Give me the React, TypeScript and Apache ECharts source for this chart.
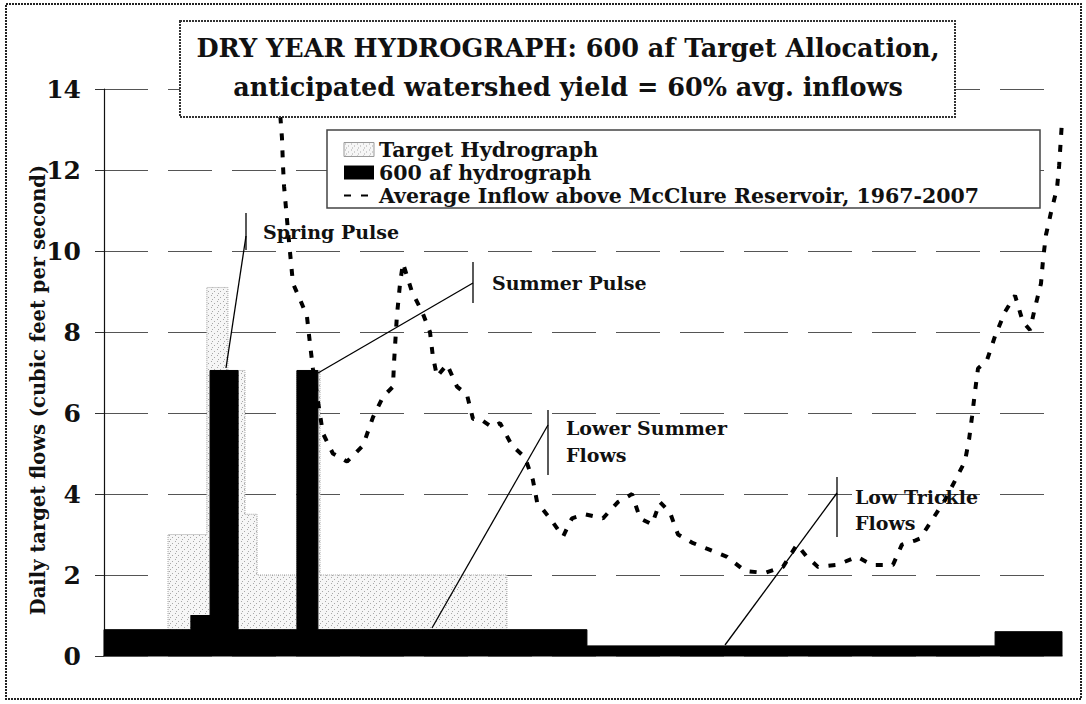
import React, { useEffect, useRef } from "react";
import * as echarts from "echarts";

// ---- data ----
const yMin = 0;
const yMax = 14;
const yInterval = 2;
const dayMax = 365;

// Target hydrograph (step edges in day-of-season, value for each step)
const targetEdges = [24.4, 39.2, 47.2, 53.7, 58.3, 73.5, 82.3, 153.5];
const targetValues = [3.0, 9.1, 7.05, 3.5, 2.0, 7.05, 2.0];

// 600 af hydrograph
const allocEdges = [0, 33.1, 40.4, 51.1, 73.5, 81.5, 184.0, 339.5, 365];
const allocValues = [0.65, 1.0, 7.05, 0.65, 7.05, 0.65, 0.25, 0.6];

// Average inflow above McClure Reservoir, 1967-2007
const inflowDays = [
  65.9, 67.1, 67.8, 68.2, 68.6, 70.1, 70.9, 72.0, 74.7, 77.3,
  78.5, 79.6, 81.5, 83.4, 87.2, 92.6, 98.7, 102.5, 106.3, 110.1,
  110.5, 111.6, 112.8, 113.9, 117.3, 121.2, 124.2, 125.3, 126.9, 130.7,
  134.5, 138.3, 140.6, 143.3, 147.8, 150.9, 155.4, 160.4, 163.4, 165.0,
  169.9, 174.9, 178.3, 183.3, 190.1, 195.8, 201.2, 204.2, 208.8, 211.8,
  215.6, 218.7, 224.0, 229.7, 237.4, 244.2, 251.8, 258.7, 264.0, 267.8,
  272.0, 279.3, 286.9, 292.6, 300.6, 304.0, 309.0, 310.9, 320.4, 328.0,
  329.6, 330.7, 331.8, 333.0, 336.4, 339.5, 343.3, 347.1, 350.1, 352.8,
  354.7, 357.0, 357.8, 358.9, 360.8, 363.1, 363.9, 364.5, 365.0,
];
const inflowValues = [
  15.0, 13.4, 12.8, 12.1, 11.6, 10.5, 9.95, 9.2, 8.8, 8.4,
  7.7, 7.1, 6.3, 5.5, 5.0, 4.8, 5.2, 5.9, 6.4, 6.65,
  7.25, 8.4, 9.2, 9.7, 9.0, 8.5, 8.0, 7.4, 6.9, 7.2,
  6.65, 6.45, 5.85, 5.85, 5.65, 5.75, 5.2, 4.9, 4.35, 3.8,
  3.4, 2.95, 3.4, 3.5, 3.4, 3.8, 4.0, 3.4, 3.25, 3.8,
  3.55, 3.0, 2.8, 2.65, 2.45, 2.1, 2.05, 2.2, 2.75, 2.45,
  2.2, 2.25, 2.45, 2.25, 2.25, 2.75, 2.85, 2.9, 3.85, 4.8,
  5.35, 5.9, 6.5, 7.1, 7.3, 7.9, 8.5, 8.9, 8.25, 8.05,
  8.6, 9.2, 9.8, 10.4, 10.95, 11.55, 12.1, 12.7, 13.2,
];

const seriesNames = [
  "Target Hydrograph",
  "600 af hydrograph",
  "Average Inflow above McClure Reservoir, 1967-2007",
];
const titleLines = [
  "DRY YEAR HYDROGRAPH: 600 af Target Allocation,",
  "anticipated watershed yield = 60% avg. inflows",
];
const yAxisTitle = "Daily target flows (cubic feet per second)";

const FONT = '"DejaVu Serif", "Liberation Serif", serif';

function stepPoints(edges: number[], values: number[]) {
  const pts: number[][] = [[edges[0], 0]];
  for (let i = 0; i < values.length; i++) {
    pts.push([edges[i], values[i]]);
    pts.push([edges[i + 1], values[i]]);
  }
  pts.push([edges[edges.length - 1], 0]);
  return pts;
}

function makeStipple() {
  const c = document.createElement("canvas");
  c.width = 6;
  c.height = 6;
  const g = c.getContext("2d")!;
  g.fillStyle = "#f6f6f6";
  g.fillRect(0, 0, 6, 6);
  g.fillStyle = "#a8a8a8";
  g.fillRect(1, 1, 1, 1);
  g.fillRect(4, 3, 1, 1);
  g.fillRect(2, 5, 1, 1);
  return c;
}

function line(x1: number, y1: number, x2: number, y2: number) {
  return {
    type: "line",
    z: 15,
    silent: true,
    shape: { x1, y1, x2, y2 },
    style: { stroke: "#000", lineWidth: 1.3 },
  };
}

function label(text: string, x: number, y: number) {
  return {
    type: "text",
    z: 15,
    silent: true,
    x,
    y,
    style: {
      text,
      font: `bold 19px ${FONT}`,
      fill: "#111",
      align: "left",
      verticalAlign: "middle",
      textAlign: "left",
      textVerticalAlign: "middle",
    },
  };
}

export default function App() {
  const ref = useRef<HTMLDivElement>(null);

  useEffect(() => {
    if (!ref.current) return;
    const chart = echarts.init(ref.current, undefined, { renderer: "svg" });
    const stipple = { image: makeStipple(), repeat: "repeat" };
    const inflowData = inflowDays.map((d, i) => [d, inflowValues[i]]);

    chart.setOption({
      animation: false,
      backgroundColor: "#fff",
      grid: { left: 104, right: 24, top: 89, bottom: 48, containLabel: false },
      xAxis: {
        type: "value",
        min: 0,
        max: dayMax,
        axisLine: { show: true, lineStyle: { color: "#555", width: 1.5 } },
        axisTick: { show: false },
        axisLabel: { show: false },
        splitLine: { show: false },
      },
      yAxis: {
        type: "value",
        min: yMin,
        max: yMax,
        interval: yInterval,
        axisLine: { show: true, lineStyle: { color: "#111", width: 1.2 } },
        axisTick: { show: true, length: 9, lineStyle: { color: "#333" } },
        axisLabel: {
          fontFamily: FONT,
          fontWeight: "bold",
          fontSize: 25,
          color: "#111",
          margin: 23,
        },
        splitLine: {
          show: true,
          lineStyle: { color: "#555", width: 1, type: [44, 20] },
        },
      },
      legend: {
        orient: "vertical",
        left: 338,
        top: 134,
        z: 20,
        itemWidth: 30,
        itemHeight: 14,
        itemGap: 2,
        selectedMode: false,
        textStyle: {
          fontFamily: FONT,
          fontWeight: "bold",
          fontSize: 20.5,
          color: "#111",
        },
        data: [
          {
            name: seriesNames[0],
            icon: "rect",
            itemStyle: { color: stipple, borderColor: "#999", borderWidth: 1 },
          },
          { name: seriesNames[1], icon: "rect", itemStyle: { color: "#000" } },
          { name: seriesNames[2], itemStyle: { opacity: 0 } },
        ],
      },
      series: [
        {
          name: seriesNames[0],
          type: "line",
          z: 2,
          symbol: "none",
          data: stepPoints(targetEdges, targetValues),
          lineStyle: { color: "#a0a0a0", width: 1, type: "dotted" },
          itemStyle: { color: "#bbb" },
          areaStyle: { color: stipple, opacity: 1 },
        },
        {
          name: seriesNames[1],
          type: "line",
          z: 3,
          symbol: "none",
          data: stepPoints(allocEdges, allocValues),
          lineStyle: { color: "#000", width: 1 },
          itemStyle: { color: "#000" },
          areaStyle: { color: "#000", opacity: 1 },
        },
        {
          name: seriesNames[2],
          type: "line",
          z: 4,
          symbol: "none",
          clip: true,
          data: inflowData,
          itemStyle: { color: "#000" },
          lineStyle: { color: "#000", width: 4, type: [7, 10] },
        },
      ],
      graphic: [
        {
          type: "rect",
          z: 0,
          silent: true,
          shape: { x: 6, y: 4, width: 1075, height: 695 },
          style: { fill: "none", stroke: "#222", lineWidth: 2, lineDash: [2, 1] },
        },
        {
          type: "text",
          z: 5,
          silent: true,
          x: 38,
          y: 390,
          rotation: Math.PI / 2,
          style: {
            text: yAxisTitle,
            font: `bold 19.5px ${FONT}`,
            fill: "#111",
            align: "center",
            verticalAlign: "middle",
            textAlign: "center",
            textVerticalAlign: "middle",
          },
        },
        {
          type: "rect",
          z: 10,
          silent: true,
          shape: { x: 180, y: 21, width: 775, height: 96 },
          style: { fill: "#fff", stroke: "#333", lineWidth: 2, lineDash: [2, 1] },
        },
        {
          type: "text",
          z: 11,
          silent: true,
          x: 568,
          y: 48,
          style: {
            text: titleLines[0],
            font: `bold 25.5px ${FONT}`,
            fill: "#111",
            align: "center",
            verticalAlign: "middle",
            textAlign: "center",
            textVerticalAlign: "middle",
          },
        },
        {
          type: "text",
          z: 11,
          silent: true,
          x: 568,
          y: 87,
          style: {
            text: titleLines[1],
            font: `bold 25.5px ${FONT}`,
            fill: "#111",
            align: "center",
            verticalAlign: "middle",
            textAlign: "center",
            textVerticalAlign: "middle",
          },
        },
        {
          type: "rect",
          z: 10,
          silent: true,
          shape: { x: 327, y: 130, width: 713, height: 78 },
          style: { fill: "#fff", stroke: "#444", lineWidth: 1.5 },
        },
        line(226, 368, 246, 236),
        line(246, 213, 246, 250),
        label("Spring Pulse", 263, 232),
        line(318, 373, 473, 283),
        line(473, 262, 473, 303),
        label("Summer Pulse", 492, 283),
        line(432, 628, 548, 425),
        line(548, 410, 548, 475),
        label("Lower Summer", 566, 428),
        label("Flows", 566, 455),
        line(725, 645, 837, 493),
        line(837, 477, 837, 537),
        label("Low Trickle", 855, 497),
        label("Flows", 855, 523),
      ],
    });

    return () => chart.dispose();
  }, []);

  return (
    <div
      ref={ref}
      style={{ position: "absolute", left: 0, top: 0, width: 1086, height: 704 }}
    />
  );
}
